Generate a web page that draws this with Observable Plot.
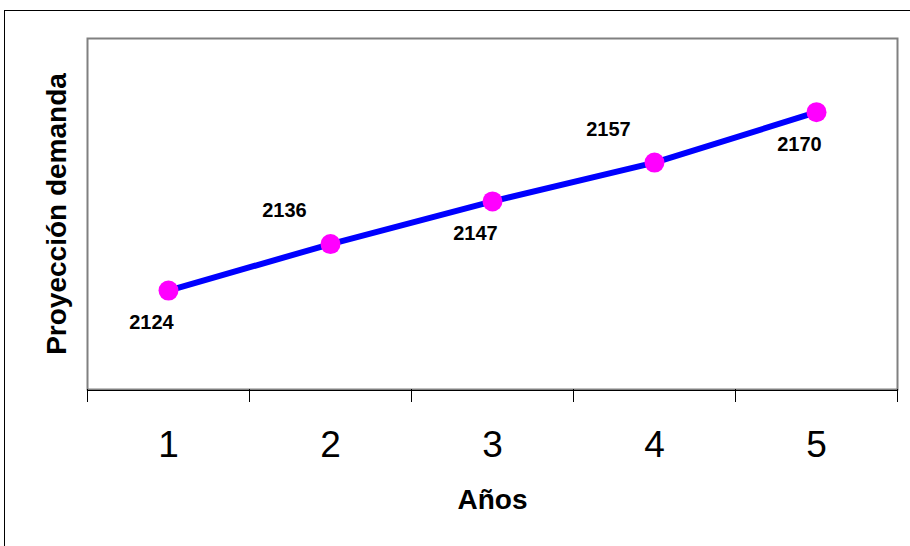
<!DOCTYPE html>
<html>
<head>
<meta charset="utf-8">
<script src="https://cdn.jsdelivr.net/npm/d3@7"></script>
<script src="https://cdn.jsdelivr.net/npm/@observablehq/plot@0.6"></script>
<style>
  html, body { margin: 0; padding: 0; background: #fff; overflow: hidden; }
  #wrap { position: relative; width: 910px; height: 546px; }
  #border { position: absolute; left: 4px; top: 10px; width: 1000px; height: 1000px;
            border-left: 1px solid #000; border-top: 1px solid #000; box-sizing: border-box; }
  #chart { position: absolute; left: 0; top: 0; }
</style>
</head>
<body>
<div id="wrap"><div id="border"></div><div id="chart"></div></div>
<script>
// Projected demand per year
const years = [1, 2, 3, 4, 5];
const demand = [2124, 2136, 2147, 2157, 2170];
const yearBounds = [0.5, 1.5, 2.5, 3.5, 4.5, 5.5];
const xTitle = "Años";
const yTitle = "Proyección demanda";

const data = years.map((year, i) => ({year, value: demand[i], i}));
const below = data.filter(d => d.i % 2 === 0);
const above = data.filter(d => d.i % 2 === 1);

const font = "'Liberation Sans', Arial, Helvetica, sans-serif";
const yMin = 2098.5, yMax = 2189;

const chart = Plot.plot({
  width: 910,
  height: 546,
  marginLeft: 87,
  marginRight: 13,
  marginTop: 38,
  marginBottom: 157,
  style: {fontFamily: font, background: "transparent", color: "#000"},
  x: {domain: [0.5, 5.5], label: null},
  y: {domain: [yMin, yMax], label: null, axis: null},
  marks: [
    Plot.frame({stroke: "#808080", strokeWidth: 2}),
    Plot.ruleY([yMin], {stroke: "#000", strokeWidth: 1, dy: 1}),
    Plot.axisX(yearBounds, {tickSize: 13, tickFormat: () => "", label: null, stroke: "#000"}),
    Plot.axisX(years, {tickSize: 0, tickPadding: 41, fontSize: 37, label: null, tickFormat: d => String(d)}),
    Plot.text([yTitle], {frameAnchor: "left", dx: -30, rotate: -90, fontSize: 28, fontWeight: "bold",
                         textAnchor: "middle", lineAnchor: "middle"}),
    Plot.text([xTitle], {frameAnchor: "bottom", dy: 111, fontSize: 28, fontWeight: "bold",
                         textAnchor: "middle", lineAnchor: "middle"}),
    Plot.line(data, {x: "year", y: "value", stroke: "#0000ff", strokeWidth: 6}),
    Plot.dot(data, {x: "year", y: "value", r: 10, fill: "#ff00ff", stroke: "none"}),
    Plot.text(below, {x: "year", y: "value", text: d => String(d.value), dx: -17, dy: 32,
                      fontSize: 20, fontWeight: "bold", lineAnchor: "middle"}),
    Plot.text(above, {x: "year", y: "value", text: d => String(d.value), dx: -46, dy: -33,
                      fontSize: 20, fontWeight: "bold", lineAnchor: "middle"})
  ]
});

document.getElementById("chart").appendChild(chart);
</script>
</body>
</html>
